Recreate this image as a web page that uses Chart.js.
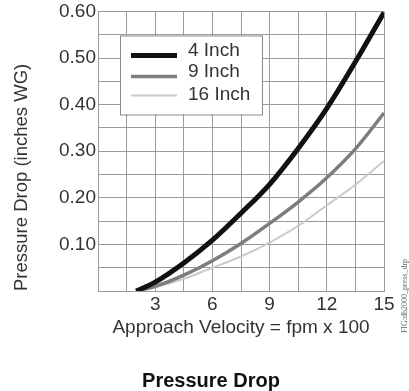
<!DOCTYPE html>
<html>
<head>
<meta charset="utf-8">
<script src="https://cdn.jsdelivr.net/npm/chart.js@4/dist/chart.umd.min.js"></script>
<style>
html, body { margin: 0; padding: 0; background: #fff; }
#caixa { width: 409px; height: 391px; }
</style>
</head>
<body>
<div id="caixa"><canvas id="grafico-pressao"></canvas></div>
<script>
// velocidade de aproximacao (fpm x 100)
const velocidade = [2, 3, 4.5, 6, 7.5, 9, 10.5, 12, 13.5, 15];
// queda de pressao (inches WG) para cada profundidade
const queda4pol  = [0, 0.019, 0.060, 0.109, 0.167, 0.229, 0.306, 0.392, 0.492, 0.598];
const queda9pol  = [0, 0.010, 0.034, 0.065, 0.102, 0.145, 0.191, 0.243, 0.305, 0.382];
const queda16pol = [0, 0.008, 0.026, 0.050, 0.074, 0.104, 0.140, 0.184, 0.228, 0.279];
const nomes = ['4 Inch', '9 Inch', '16 Inch'];
const ticksY = [0.1, 0.2, 0.3, 0.4, 0.5, 0.6];
const ticksX = [3, 6, 9, 12, 15];
const titulo = 'Pressure Drop';

function pontos(valores) {
    return velocidade.map((v, i) => ({ x: v, y: valores[i] }));
}

const fonte = 'Liberation Sans, Arial, sans-serif';

// legenda desenhada dentro da area do grafico
const legendaInterna = {
    id: 'legendaInterna',
    afterDatasetsDraw(chart) {
        const ctx = chart.ctx;
        const a = chart.chartArea;
        const x0 = a.left + 22, y0 = a.top + 24;
        ctx.save();
        ctx.fillStyle = '#fff';
        ctx.fillRect(x0, y0, 142, 79);
        ctx.strokeStyle = '#8a8a8a';
        ctx.lineWidth = 1;
        ctx.strokeRect(x0 + 0.5, y0 + 0.5, 142, 79);
        const linhas = [20, 41, 60];
        const textos = [15, 36, 59];
        chart.data.datasets.forEach((ds, i) => {
            ctx.strokeStyle = ds.borderColor;
            ctx.lineWidth = ds.borderWidth;
            ctx.beginPath();
            ctx.moveTo(x0 + 11, y0 + linhas[i]);
            ctx.lineTo(x0 + 57, y0 + linhas[i]);
            ctx.stroke();
            ctx.fillStyle = '#333';
            ctx.font = '19px ' + fonte;
            ctx.textBaseline = 'middle';
            ctx.fillText(ds.label, x0 + 68, y0 + textos[i]);
        });
        ctx.restore();
    }
};

// titulo embaixo e pequena referencia do desenho no canto direito
const textosExtras = {
    id: 'textosExtras',
    afterDraw(chart) {
        const ctx = chart.ctx;
        ctx.save();
        ctx.fillStyle = '#111';
        ctx.font = 'bold 20px ' + fonte;
        ctx.textAlign = 'center';
        ctx.textBaseline = 'middle';
        ctx.fillText(titulo, 211, 381);

        ctx.translate(405, 296);
        ctx.rotate(-Math.PI / 2);
        ctx.fillStyle = '#666';
        ctx.font = '8px Liberation Serif, serif';
        ctx.fillText('FIG:db2000_press_drp', 0, 0);
        ctx.restore();
    }
};

const cty = document.getElementById('grafico-pressao');
new Chart(cty, {
    type: 'line',
    data: {
        datasets: [
            { label: nomes[0], data: pontos(queda4pol), borderColor: '#111', borderWidth: 5 },
            { label: nomes[1], data: pontos(queda9pol), borderColor: '#7d7d7d', borderWidth: 3.5 },
            { label: nomes[2], data: pontos(queda16pol), borderColor: '#cacaca', borderWidth: 2 }
        ]
    },
    options: {
        responsive: true,
        maintainAspectRatio: false,
        animation: false,
        events: [],
        layout: { padding: { left: 4, right: 25, top: -4, bottom: 54 } },
        elements: {
            point: { radius: 0 },
            line: { cubicInterpolationMode: 'monotone', fill: false }
        },
        scales: {
            x: {
                type: 'linear',
                min: 0,
                max: 15,
                grid: { color: '#9a9a9a', lineWidth: 1, drawTicks: false },
                border: { color: '#9a9a9a' },
                ticks: {
                    stepSize: 1.5,
                    padding: 4,
                    maxRotation: 0,
                    autoSkip: false,
                    color: '#333',
                    font: { family: fonte, size: 19, lineHeight: 1 },
                    callback: v => ticksX.includes(v) ? String(v) : ''
                },
                title: {
                    display: true,
                    text: 'Approach Velocity = fpm x 100',
                    color: '#333',
                    font: { family: fonte, size: 19, lineHeight: 1 },
                    padding: { top: 0, bottom: 0 }
                }
            },
            y: {
                min: 0,
                max: 0.6,
                grid: { color: '#9a9a9a', lineWidth: 1, drawTicks: false },
                border: { color: '#9a9a9a' },
                ticks: {
                    stepSize: 0.05,
                    padding: 2,
                    autoSkip: false,
                    color: '#333',
                    font: { family: fonte, size: 19, lineHeight: 1 },
                    callback: v => ticksY.some(t => Math.abs(t - v) < 1e-6) ? v.toFixed(2) : ''
                },
                title: {
                    display: true,
                    text: 'Pressure Drop (inches WG)',
                    align: 'start',
                    color: '#333',
                    font: { family: fonte, size: 18.5, lineHeight: 1.2 },
                    padding: { top: 7, bottom: 0 }
                },
                afterFit(scale) { scale.width = 94; }
            }
        },
        plugins: {
            legend: { display: false },
            tooltip: { enabled: false },
            title: { display: false }
        }
    },
    plugins: [legendaInterna, textosExtras]
});
</script>
</body>
</html>
